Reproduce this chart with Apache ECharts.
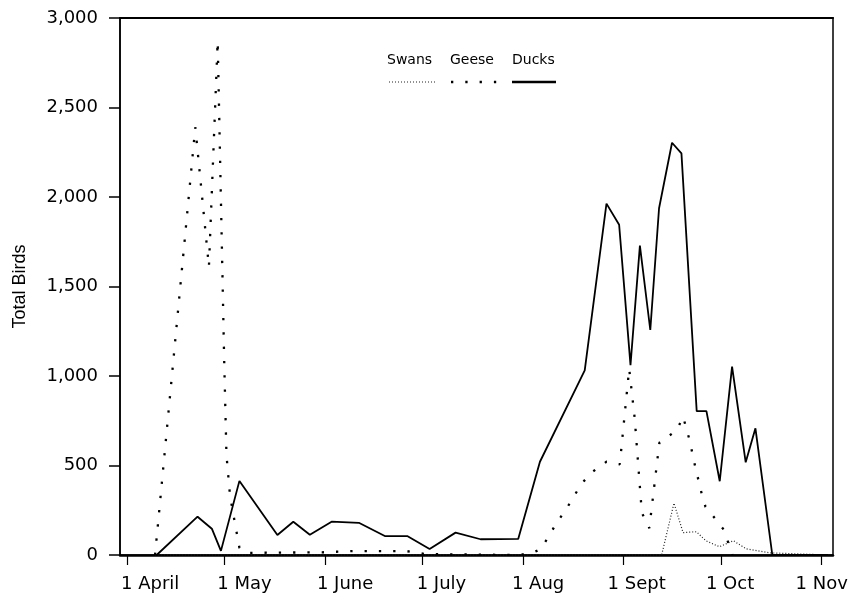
<!DOCTYPE html>
<html>
<head>
<meta charset="utf-8">
<script src="https://cdn.jsdelivr.net/npm/echarts@6/dist/echarts.min.js"></script>
<style>
  html, body { margin: 0; padding: 0; background: #fff; }
  #chart { width: 856px; height: 602px; }
</style>
</head>
<body>
<div id="chart"></div>
<script>
// Survey days are counted from 1 April (day 0).
const monthDays   = [0, 30, 61, 91, 122, 153, 183, 214];
const monthLabels = ['1 April', '1 May', '1 June', '1 July', '1 Aug', '1 Sept', '1 Oct', '1 Nov'];

const duckDays   = [9.1, 21.7, 26.1, 28.9, 34.6, 46.3, 51.2, 56.3, 63, 71.4, 79.4, 86.3, 93.2, 101.2, 108.9, 120.5,
                    127.2, 141, 147.7, 151.6, 155.1, 158, 161.2, 163.9, 167.9, 170.8, 175.5, 178.5, 182.6, 186.4,
                    190.6, 193.6, 198.8, 216];
const duckCounts = [0, 214, 147, 23, 414, 112, 186, 113, 186, 180, 106, 106, 33, 125, 88, 90,
                    521, 1032, 1963, 1845, 1061, 1728, 1257, 1937, 2303, 2244, 804, 804, 412, 1052,
                    518, 708, 0, 0];

const gooseDays   = [8.6, 21, 25.2, 27.9, 29.9, 30.6, 31.7, 33.1, 34.6, 37, 60, 70, 86, 92, 120, 124.5,
                     127.3, 129.9, 132.3, 135, 137.6, 140.1, 143.4, 147.7, 151.8, 154.7, 156.4, 158.6, 160.9,
                     164, 166.6, 169.4, 171.3, 173.3, 175, 177, 178.2, 181.1, 183.9, 186.5];
const gooseCounts = [0, 2390, 1610, 2870, 1090, 560, 330, 190, 40, 12, 15, 22, 22, 5, 0, 8,
                     32, 102, 180, 247, 326, 400, 465, 521, 507, 1040, 764, 236, 150,
                     627, 661, 698, 773, 642, 497, 345, 270, 205, 140, 0];

const swanDays   = [8.6, 164.7, 168.5, 171.3, 175.4, 178.3, 182.5, 186.8, 190.8, 198, 216];
const swanCounts = [0, 0, 290, 125, 130, 80, 46, 80, 34, 12, 0];

const seriesNames = ['Swans', 'Geese', 'Ducks'];

// Line styles shared by the plot and the key
const swanLine  = { color: '#222', width: 1.2, type: [1, 2] };
const gooseLine = { color: '#000', width: 2.3, type: [2.3, 12] };
const duckLine  = { color: '#000', width: 1.8, type: 'solid' };

// Horizontal nudge (px) of each month label from its tick
const labelShift = [23, 20, 20, 19, 15, 13, 9, 0];

const pairs = (xs, ys) => xs.map((x, i) => [x, ys[i]]);

const hFont = 'DejaVu Sans';
const chart = echarts.init(document.getElementById('chart'), null, { renderer: 'canvas' });

const rich = {};
labelShift.forEach((s, i) => {
  rich['m' + i] = { fontFamily: hFont, fontSize: 18, color: '#000', padding: [0, 0, 0, 2 * s] };
});

const xMin = -2.2, xMax = 217.5;

chart.setOption({
  animation: false,
  backgroundColor: '#fff',
  grid: { left: 120, right: 23, top: 18, bottom: 47, show: true, borderColor: '#000', borderWidth: 1.5 },
  xAxis: [{
    type: 'value', min: xMin, max: xMax,
    splitLine: { show: false },
    axisLine: { show: true, onZero: false, lineStyle: { color: '#000', width: 2.5 } },
    axisTick: { show: true, inside: false, length: 10, customValues: monthDays, lineStyle: { color: '#000', width: 1.2 } },
    axisLabel: {
      show: true, margin: 20, customValues: monthDays,
      formatter: v => {
        const i = monthDays.indexOf(Math.round(v));
        return i < 0 ? '' : '{m' + i + '|' + monthLabels[i] + '}';
      },
      rich: rich
    }
  }, {
    type: 'value', min: xMin, max: xMax, position: 'top',
    splitLine: { show: false },
    axisLine: { show: true, onZero: false, lineStyle: { color: '#000', width: 2 } },
    axisTick: { show: false }, axisLabel: { show: false }
  }],
  yAxis: {
    type: 'value', min: 0, max: 3000, interval: 500,
    name: 'Total Birds', nameLocation: 'middle', nameGap: 91, nameRotate: 90,
    nameTextStyle: { fontFamily: 'Liberation Sans', fontSize: 18, color: '#000' },
    splitLine: { show: false },
    axisLine: { show: true, onZero: false, lineStyle: { color: '#000', width: 1.5 } },
    axisTick: { show: true, inside: false, length: 11, lineStyle: { color: '#000', width: 1.5 } },
    axisLabel: {
      margin: 22, fontFamily: hFont, fontSize: 18, color: '#000',
      formatter: v => v.toLocaleString('en-US')
    }
  },
  series: [
    { name: seriesNames[0], type: 'line', data: pairs(swanDays, swanCounts), showSymbol: false, symbol: 'none', lineStyle: swanLine, z: 3 },
    { name: seriesNames[1], type: 'line', data: pairs(gooseDays, gooseCounts), showSymbol: false, symbol: 'none', lineStyle: gooseLine, z: 4 },
    { name: seriesNames[2], type: 'line', data: pairs(duckDays, duckCounts), showSymbol: false, symbol: 'none', lineStyle: duckLine, z: 5 }
  ],
  // Key: each name with its line sample underneath
  graphic: [
    { type: 'text', left: 387, top: 53, style: { text: seriesNames[0], font: '14px "DejaVu Sans"', fill: '#000' } },
    { type: 'text', left: 450, top: 53, style: { text: seriesNames[1], font: '14px "DejaVu Sans"', fill: '#000' } },
    { type: 'text', left: 512, top: 53, style: { text: seriesNames[2], font: '14px "DejaVu Sans"', fill: '#000' } },
    { type: 'line', shape: { x1: 389, y1: 82, x2: 435, y2: 82 }, style: { stroke: swanLine.color, lineWidth: swanLine.width, lineDash: swanLine.type } },
    { type: 'line', shape: { x1: 451, y1: 82, x2: 497, y2: 82 }, style: { stroke: gooseLine.color, lineWidth: gooseLine.width, lineDash: gooseLine.type } },
    { type: 'line', shape: { x1: 512, y1: 82, x2: 556, y2: 82 }, style: { stroke: duckLine.color, lineWidth: 2.5 } }
  ]
});
</script>
</body>
</html>
